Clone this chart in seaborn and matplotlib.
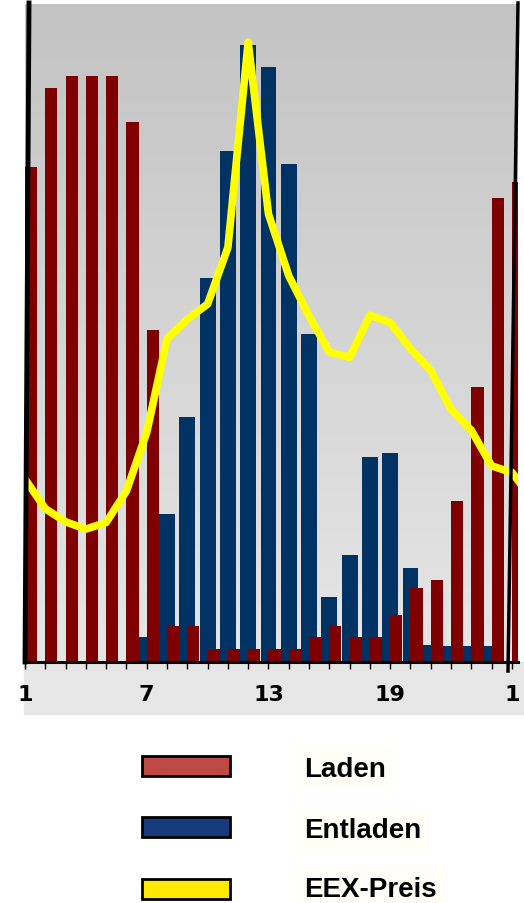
import numpy as np
import pandas as pd
import matplotlib
matplotlib.use("Agg")
import matplotlib.pyplot as plt
import seaborn as sns
from matplotlib.patches import Rectangle
from matplotlib.lines import Line2D

# hours of the day (1..24 plus hour 1 of the next day)
hours = list(range(1, 26))
tick_labels = {1: "1", 7: "7", 13: "13", 19: "19", 25: "1"}

# values as share of the axis height (%)
laden = [75.2, 87.2, 89.0, 89.0, 89.0, 82.0, 50.4, 5.4, 5.4, 2.0, 2.0, 2.0, 2.0,
         2.0, 3.8, 5.4, 3.8, 3.8, 7.2, 11.2, 12.5, 24.5, 41.8, 70.5, 72.9]
entladen = [0, 0, 0, 0, 0, 0, 3.8, 22.5, 37.3, 58.3, 77.7, 93.8, 90.5,
            75.7, 49.8, 9.9, 16.3, 31.2, 31.7, 14.3, 2.6, 2.4, 2.4, 2.4, 0]

# price curve runs one hour past the right edge
price_hours = list(range(1, 27))
eex_preis = [27.8, 23.3, 21.3, 20.2, 21.2, 26.0, 34.9, 49.1, 52.1, 54.4, 63.0,
             94.2, 68.1, 58.7, 52.6, 47.1, 46.3, 52.7, 51.6, 47.6, 44.3, 38.4,
             35.2, 29.8, 28.8, 24.8]

red = "#7f0000"
blue = "#003363"
yellow = "#ffff00"

df_l = pd.DataFrame({"x": [h + 0.3 for h in hours], "y": laden})
df_e = pd.DataFrame({"x": hours, "y": entladen})
df_p = pd.DataFrame({"x": price_hours, "y": eex_preis})

fig = plt.figure(figsize=(5.24, 9.04), dpi=100)

# tick label band (behind the axes)
fig.patches.append(Rectangle((24 / 524, 1 - 715 / 904), 500 / 524, 52 / 904,
                             transform=fig.transFigure, color="#e6e6e6", zorder=-1))

ax = fig.add_axes([25 / 524, 1 - 663 / 904, 493 / 524, 658 / 904])
ax.patch.set_alpha(0)

# gray gradient background, darker at the top
grad = np.linspace(0, 1, 256).reshape(-1, 1)
ax.imshow(grad, cmap=matplotlib.colors.LinearSegmentedColormap.from_list(
    "bg", ["#c3c3c3", "#e6e6e6"]), extent=[0, 1, 0, 1], origin="upper",
    aspect="auto", transform=ax.transAxes, zorder=0)

sns.barplot(data=df_e, x="x", y="y", native_scale=True, width=0.78, color=blue,
            saturation=1, errorbar=None, ax=ax, zorder=2)
sns.barplot(data=df_l, x="x", y="y", native_scale=True, width=0.6, color=red,
            saturation=1, errorbar=None, ax=ax, zorder=3)
sns.lineplot(data=df_p, x="x", y="y", color=yellow, lw=5.5, ax=ax, zorder=4,
             solid_joinstyle="round")

ax.set_xlim(1, 25.3)
ax.set_ylim(0, 100)
ax.set_xlabel("")
ax.set_ylabel("")
ax.set_yticks([])
ax.set_xticks(hours)
ax.set_xticklabels([tick_labels.get(h, "") for h in hours], fontsize=16,
                   fontweight="bold", family="DejaVu Sans")
ax.tick_params(axis="x", length=5, width=1, direction="out", pad=11, colors="black")
for s in ["top", "left", "right"]:
    ax.spines[s].set_visible(False)
ax.spines["bottom"].set_linewidth(2.2)
ax.spines["bottom"].set_zorder(6)

# slanted side lines
fig.add_artist(Line2D([29 / 524, 25 / 524], [1 - 4 / 904, 1 - 663 / 904],
                      color="black", lw=3.5, zorder=10))
fig.add_artist(Line2D([518 / 524, 508 / 524], [1 - 4 / 904, 1 - 672 / 904],
                      color="black", lw=2.5, zorder=10))

# legend
legend_items = [("Laden", "#be4946", 767, 770), ("Entladen", "#163a7a", 828, 831),
                ("EEX-Preis", "#ffe900", 890, 890)]
for label, col, yc, yt in legend_items:
    fig.patches.append(Rectangle((142 / 524, 1 - (yc + 10) / 904), 88 / 524, 20 / 904,
                                 transform=fig.transFigure, facecolor=col,
                                 edgecolor="black", lw=2))
    fig.text(304 / 524, 1 - yt / 904, label, fontsize=20, fontweight="bold",
             family="Liberation Sans", va="center", ha="left",
             bbox=dict(facecolor="#fffff8", edgecolor="none", pad=6))

fig.savefig("out.png", dpi=100)
